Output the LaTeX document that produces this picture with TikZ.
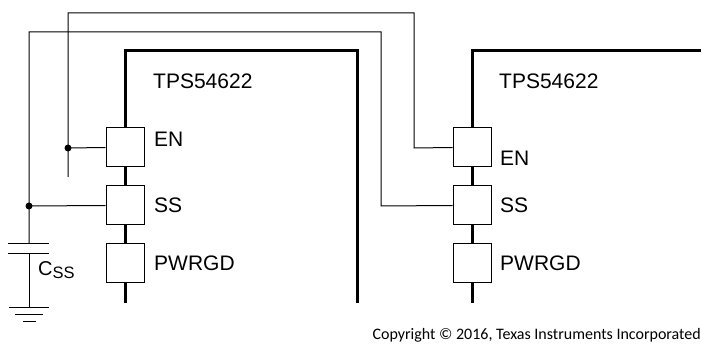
\documentclass[tikz,border=0pt]{standalone}
\usepackage{fontspec}
\setmainfont{Liberation Sans}
\newfontfamily\copyfont{Carlito}
\usetikzlibrary{positioning}

\begin{document}
\begin{tikzpicture}[x=1pt,y=-1pt,
	pin/.style={draw, fill=white, line width=1pt, minimum width=38pt, minimum height=39pt, inner sep=0pt},
	lbl/.style={anchor=west, inner sep=0pt, font=\fontsize{21}{21}\selectfont},
	chip/.style={line width=3pt},
	wire/.style={line width=1pt}]
	\useasboundingbox (0,0) rectangle (701,344);

	% the two devices
	\draw [chip] (125,303) -- (125,51) -- (357,51) -- (357,303);
	\draw [chip] (472,303) -- (472,51) -- (701,51);

	\draw (125,147.5) node[pin] (en1) {} ;
	\draw (125,205.5) node[pin] (ss1) {} ;
	\draw (125,263.5) node[pin] (pg1) {} ;
	\draw (472,147.5) node[pin] (en2) {} ;
	\draw (472,205.5) node[pin] (ss2) {} ;
	\draw (472,263.5) node[pin] (pg2) {} ;

	\draw (153,81) node[lbl] (name1) {TPS54622} ;
	\draw (154,139) node[lbl] (lblen1) {EN} ;
	\draw (154,205) node[lbl] (lblss1) {SS} ;
	\draw (154,263) node[lbl] (lblpg1) {PWRGD} ;
	\draw (499,81) node[lbl] (name2) {TPS54622} ;
	\draw (500,158) node[lbl] (lblen2) {EN} ;
	\draw (500,205) node[lbl] (lblss2) {SS} ;
	\draw (500,263) node[lbl] (lblpg2) {PWRGD} ;

	% EN line
	\coordinate (jen) at (68,148);
	\coordinate (enend) at (68,177);
	\draw [wire] (enend) -- (68,13) -| (414,148) -- (en2.west);
	\draw [wire] (jen) -- (en1.west);
	\fill (jen) circle (3.5);

	% SS line and soft start capacitor
	\coordinate (jss) at (29,206);
	\coordinate (capt) at (29,244);
	\coordinate (capb) at (29,254);
	\coordinate (gnd) at (29,308);
	\draw [wire] (capt) -- (29,32) -| (381,206) -- (ss2.west);
	\draw [wire] (jss) -- (ss1.west);
	\fill (jss) circle (3.5);
	\draw [wire] (8,244) -- (49,244);
	\draw [wire] (8,254) -- (49,254);
	\draw [wire] (capb) -- (gnd);
	\draw [wire] (9,308) -- (49,308);
	\draw [wire] (15,315) -- (43,315);
	\draw [wire] (23,322) -- (36,322);
	\draw (38,270) node[anchor=west, inner sep=0pt, font=\fontsize{20}{20}\selectfont] (css) {C\raisebox{-0.25ex}{\fontsize{16.5}{16.5}\selectfont SS}} ;

	\draw (701,340) node[anchor=base east, inner sep=0pt, font=\copyfont\fontsize{16}{16}\selectfont] (copy) {Copyright © 2016, Texas Instruments Incorporated} ;
\end{tikzpicture}
\end{document}
